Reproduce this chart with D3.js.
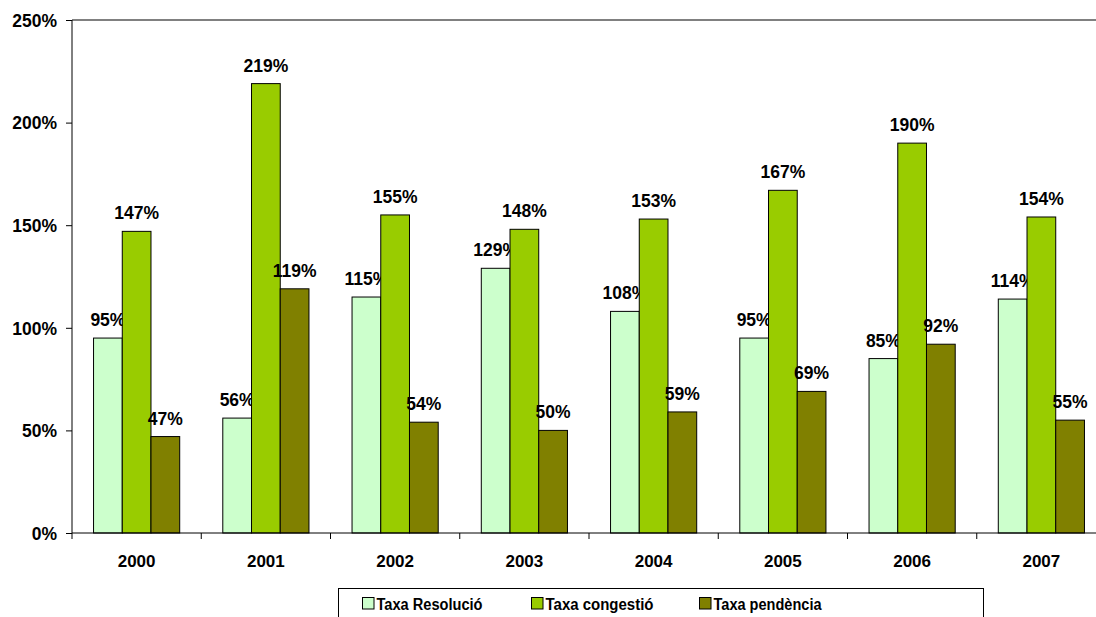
<!DOCTYPE html>
<html><head><meta charset="utf-8">
<script src="https://cdn.jsdelivr.net/npm/d3@7"></script>
<style>body{margin:0;background:#fff}svg{display:block}text{font-family:"Liberation Sans",Arial,sans-serif;font-weight:bold}</style>
</head><body>
<svg id="c" width="1096" height="617"></svg>
<script>
const years = ["2000","2001","2002","2003","2004","2005","2006","2007"];
const seriesNames = ["Taxa Resolució","Taxa congestió","Taxa pendència"];
const resolucio = [95,56,115,129,108,95,85,114];
const congestio = [147,219,155,148,153,167,190,154];
const pendencia = [47,119,54,50,59,69,92,55];
const yTicks = [0,50,100,150,200,250];
const colors = ["#CCFFCC","#99CC00","#808000"];
const series = [resolucio, congestio, pendencia];

const svg = d3.select("#c");
const L=72, R=1106, T=20, B=533;
const x = d3.scaleBand().domain(years).range([L,R]).paddingInner(0).paddingOuter(0);
const inner = d3.scaleBand().domain(seriesNames).range([0,x.bandwidth()]).paddingInner(0).paddingOuter(0.75);
const y = d3.scaleLinear().domain([0,250]).range([B,T]);

// top border
svg.append("line").attr("x1",L).attr("x2",R).attr("y1",y(250)).attr("y2",y(250)).attr("stroke","#808080").attr("stroke-width",2);

// bars
series.forEach((vals,si)=>{
  const g = svg.append("g");
  g.selectAll("rect").data(years).join("rect")
    .attr("x",d=>x(d)+inner(seriesNames[si]))
    .attr("y",(d,i)=>y(vals[i]))
    .attr("width",inner.bandwidth())
    .attr("height",(d,i)=>B-y(vals[i]))
    .attr("fill",colors[si]).attr("stroke","#000").attr("stroke-width",1);
  g.selectAll("text").data(years).join("text")
    .attr("x",d=>x(d)+inner(seriesNames[si])+inner.bandwidth()/2)
    .attr("y",(d,i)=>y(vals[i])-12)
    .attr("text-anchor","middle").attr("font-size",17.5)
    .text((d,i)=>vals[i]+"%");
});

// y axis
const ya = svg.append("g").attr("transform",`translate(${L},0)`)
  .call(d3.axisLeft(y).tickValues(yTicks).tickSize(6).tickFormat(d=>d+"%"));
ya.attr("font-size",null).attr("font-family",null);
ya.select(".domain").attr("stroke","#000").attr("d",`M0,${T}V${B}`);
ya.selectAll(".tick line").attr("stroke","#000");
ya.selectAll(".tick text").attr("x",-15).attr("fill","#000").attr("dy","0.36em")
  .style("font-size","17.5px").style("font-family",'"Liberation Sans",Arial,sans-serif').style("font-weight","bold");

// x axis
svg.append("line").attr("x1",L).attr("x2",R).attr("y1",B).attr("y2",B).attr("stroke","#000");
svg.append("g").selectAll("line").data(years).join("line")
  .attr("x1",d=>x(d)).attr("x2",d=>x(d)).attr("y1",B).attr("y2",B+6).attr("stroke","#000");
svg.append("g").selectAll("text").data(years).join("text")
  .attr("x",d=>x(d)+x.bandwidth()/2).attr("y",B+34)
  .attr("text-anchor","middle").attr("font-size",17).text(d=>d);

// legend
const lg = svg.append("g");
lg.append("rect").attr("x",338.5).attr("y",588.5).attr("width",645).attr("height",40).attr("fill","#fff").attr("stroke","#000");
const lx = [362.5,531.5,699.5];
const lw = [106,108,108];
seriesNames.forEach((n,i)=>{
  lg.append("rect").attr("x",lx[i]).attr("y",597.5).attr("width",11.5).attr("height",11.5).attr("fill",colors[i]).attr("stroke","#000");
  lg.append("text").attr("x",lx[i]+14).attr("y",609.5).attr("font-size",16)
    .attr("textLength",lw[i]).attr("lengthAdjust","spacingAndGlyphs").text(n);
});
</script>
</body></html>
